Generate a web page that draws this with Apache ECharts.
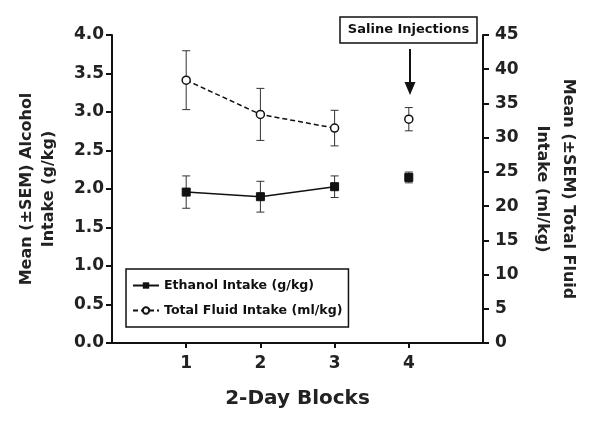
<!DOCTYPE html>
<html>
<head>
<meta charset="utf-8">
<script src="https://cdn.jsdelivr.net/npm/echarts@6/dist/echarts.min.js"></script>
<style>
  html, body { margin: 0; padding: 0; background: #fff; }
  #chart { width: 601px; height: 425px; }
</style>
</head>
<body>
<div id="chart"></div>
<script>
// 2-day blocks, block 4 = saline injections (not joined to the others)
var blocks = [1, 2, 3, 4];
var salineBlock = 4;
var ethanolMean = [1.96, 1.90, 2.03, 2.15];   // g/kg
var ethanolSem = [0.21, 0.20, 0.14, 0.07];
var fluidMean = [38.4, 33.4, 31.4, 32.7];     // ml/kg
var fluidSem = [4.3, 3.8, 2.6, 1.7];

var FONT = 'DejaVu Sans';

// line points, with a gap before the saline block
function linePoints(mean) {
  var out = [];
  blocks.forEach(function (b, i) {
    if (b === salineBlock) out.push([b, '-']);
    out.push([b, mean[i]]);
  });
  return out;
}

function errPoints(mean, sem) {
  return blocks.map(function (b, i) {
    return [b, mean[i], sem[i]];
  });
}

// error bars with caps
function renderErr(params, api) {
  var x = api.value(0), y = api.value(1), e = api.value(2);
  var top = api.coord([x, y + e]);
  var bot = api.coord([x, y - e]);
  var w = 4;
  var st = { stroke: '#333', lineWidth: 1 };
  return {
    type: 'group',
    children: [
      { type: 'line', shape: { x1: top[0], y1: top[1], x2: bot[0], y2: bot[1] }, style: st },
      { type: 'line', shape: { x1: top[0] - w, y1: top[1], x2: top[0] + w, y2: top[1] }, style: st },
      { type: 'line', shape: { x1: bot[0] - w, y1: bot[1], x2: bot[0] + w, y2: bot[1] }, style: st }
    ]
  };
}

var chart = echarts.init(document.getElementById('chart'));

var axisLine = { show: true, lineStyle: { color: '#111', width: 2 } };
var axisTick = { show: true, length: 6, lineStyle: { color: '#111', width: 2 } };

var option = {
  animation: false,
  grid: { left: 112, right: 118, top: 35, bottom: 82, outerBoundsMode: 'none' },
  legend: {
    orient: 'vertical',
    left: 126,
    top: 269,
    padding: [10, 6, 10, 6],
    itemGap: 12,
    itemWidth: 26,
    itemHeight: 8,
    borderColor: '#111',
    borderWidth: 1.5,
    backgroundColor: '#fff',
    textStyle: { fontFamily: FONT, fontWeight: 'bold', fontSize: 12.6, color: '#111' },
    data: ['Ethanol Intake (g/kg)', 'Total Fluid Intake (ml/kg)']
  },
  xAxis: {
    type: 'value',
    min: 0,
    max: 5,
    interval: 1,
    name: '2-Day Blocks',
    nameLocation: 'middle',
    nameGap: 46,
    nameTextStyle: { fontFamily: FONT, fontWeight: 'bold', fontSize: 20, color: '#222' },
    axisLine: axisLine,
    axisTick: { show: true, length: 5, lineStyle: { color: '#111', width: 2 }, customValues: blocks },
    axisLabel: {
      customValues: blocks,
      margin: 12,
      fontFamily: FONT, fontWeight: 'bold', fontSize: 17, color: '#222'
    },
    splitLine: { show: false }
  },
  yAxis: [
    {
      type: 'value',
      min: 0,
      max: 4,
      interval: 0.5,
      position: 'left',
      name: 'Mean (±SEM) Alcohol\nIntake (g/kg)',
      nameLocation: 'middle',
      nameGap: 52,
      nameRotate: 90,
      nameTextStyle: { fontFamily: FONT, fontWeight: 'bold', fontSize: 16, color: '#222', lineHeight: 22 },
      axisLine: axisLine,
      axisTick: axisTick,
      axisLabel: {
        margin: 8,
        formatter: function (v) { return v.toFixed(1); },
        fontFamily: FONT, fontWeight: 'bold', fontSize: 17, color: '#222'
      },
      splitLine: { show: false }
    },
    {
      type: 'value',
      min: 0,
      max: 45,
      interval: 5,
      position: 'right',
      name: 'Mean (±SEM) Total Fluid\nIntake (ml/kg)',
      nameLocation: 'middle',
      nameGap: 42,
      nameRotate: -90,
      nameTextStyle: { fontFamily: FONT, fontWeight: 'bold', fontSize: 16, color: '#222', lineHeight: 26 },
      axisLine: axisLine,
      axisTick: axisTick,
      axisLabel: {
        margin: 12,
        fontFamily: FONT, fontWeight: 'bold', fontSize: 17, color: '#222'
      },
      splitLine: { show: false }
    }
  ],
  series: [
    {
      name: 'err-ethanol',
      type: 'custom',
      yAxisIndex: 0,
      renderItem: renderErr,
      data: errPoints(ethanolMean, ethanolSem),
      z: 1
    },
    {
      name: 'err-fluid',
      type: 'custom',
      yAxisIndex: 1,
      renderItem: renderErr,
      data: errPoints(fluidMean, fluidSem),
      z: 1
    },
    {
      name: 'Ethanol Intake (g/kg)',
      type: 'line',
      yAxisIndex: 0,
      data: linePoints(ethanolMean),
      connectNulls: false,
      symbol: 'rect',
      symbolSize: 8,
      showAllSymbol: true,
      lineStyle: { color: '#111', width: 1.5 },
      itemStyle: { color: '#111', borderColor: '#111' },
      z: 3
    },
    {
      name: 'Total Fluid Intake (ml/kg)',
      type: 'line',
      yAxisIndex: 1,
      data: linePoints(fluidMean),
      connectNulls: false,
      symbol: 'circle',
      symbolSize: 8,
      showAllSymbol: true,
      lineStyle: { color: '#111', width: 1.5, type: [5, 3] },
      itemStyle: { color: '#fff', borderColor: '#111', borderWidth: 1.5 },
      z: 3
    }
  ],
  graphic: [
    {
      type: 'rect',
      shape: { x: 340, y: 17, width: 137, height: 26 },
      style: { fill: '#fff', stroke: '#111', lineWidth: 1.5 }
    },
    {
      type: 'text',
      x: 408.5,
      y: 30,
      style: {
        text: 'Saline Injections',
        fontFamily: FONT, fontWeight: 'bold', fontSize: 13, fill: '#111',
        align: 'center', verticalAlign: 'middle'
      }
    },
    {
      type: 'line',
      shape: { x1: 410, y1: 49, x2: 410, y2: 84 },
      style: { stroke: '#111', lineWidth: 2 }
    },
    {
      type: 'polygon',
      shape: { points: [[404.5, 82], [415.5, 82], [410, 95]] },
      style: { fill: '#111' }
    }
  ]
};

chart.setOption(option);
</script>
</body>
</html>
